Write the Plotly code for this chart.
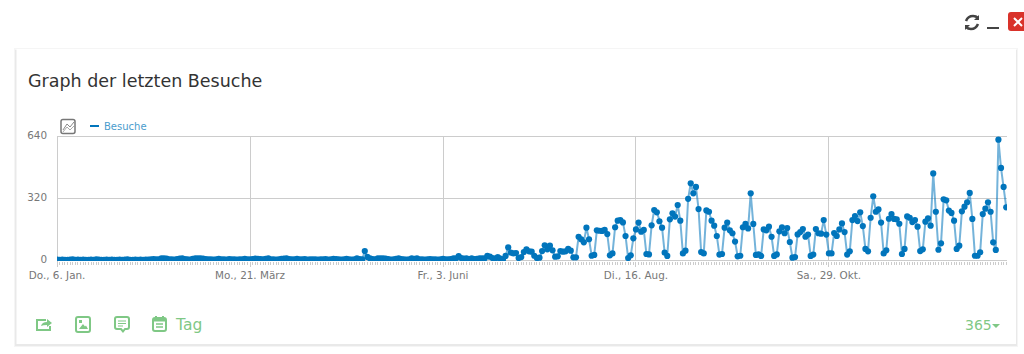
import pandas as pd
import plotly.graph_objects as go

START_DATE = "2022-01-06"
SERIES_NAME = "Besuche"
TITLE = "Graph der letzten Besuche"

visits_early = [
    2,1,2,1,1,2,3,1,2,1, 2,1,1,2,1,3,2,1,1,2, 1,2,1,1,2,1,2,3,1,1, 2,1,2,1,2,2,3,5,4,3,
    8,9,7,4,3,2,5,7,8,5, 3,2,6,8,9,8,7,5,3,4, 2,3,6,4,3,2,5,3,4,2, 3,4,6,4,3,5,7,6,5,4,
    6,8,4,3,2,4,6,7,8,5, 3,4,6,4,3,5,2,3,4,3, 2,3,4,5,2,3,6,5,3,2, 4,6,3,2,4,8,5,3,46,
    16,8,5,4,8,9,8,7,5,2, 3,6,9,5,3,2,4,8,6,9, 4,3,2,3,5,4,3,2,3,6, 4,3,5,8,9,20,10,7,9,5,8,5,6,
]
visits_mid = [
    9,9,9,21,17,10,7,15,7,3, 21,65,38,34,36,10,15,41,55,45, 43,22,10,12,46,76,55,74,50,17,
    19,46,43,45,57,48,14,14,120,107, 91,167,107,22,26,153,151,150,155,134,
    24,34,169,203,206,194,124,10,24,112, 158,193,146,155,31,29,179,258,246,200,
    167,38,21,210,241,224,284,203,34,48, 316,396,344,377,263,41,34,256,249,203,
    177,124,28,31,167,193,153,138,95,19, 22,169,186,163,
]
visits_late = [
    344,186,26,29,21,158,153,172,120,21, 29,148,169,138,165,93,12,15,132,144,160,
    120,131,21,28,160,138,136,206,131,34, 34,139,124,158,189,144,28,45,206,227,
    201,246,175,57,45,218,329,249,261,193, 34,50,213,237,212,210,187,31,57,225,
    218,196,206,172,46,55,198,215,177,447, 249,53,86,313,308,255,243,203,57,74,
    251,275,298,346,212,22,22,40,237,265, 298,249,91,52,621,475,377,272,
]
visits = visits_early + visits_mid + visits_late
dates = pd.date_range(START_DATE, periods=len(visits), freq="D")

x_tick_dates = ["2022-01-06", "2022-03-21", "2022-06-03", "2022-08-16", "2022-10-29"]
x_tick_labels = ["Do., 6. Jan.", "Mo., 21. März", "Fr., 3. Juni", "Di., 16. Aug.", "Sa., 29. Okt."]
y_ticks = [0, 320, 640]

W, H = 1024, 354
FONT = "DejaVu Sans"
BLUE = "#0175bc"
GREEN = "#7fc885"


def px(x):
    return x / W


def py(y):
    return 1 - y / H


def path(*items):
    out = []
    for it in items:
        if isinstance(it, str):
            out.append(it)
        else:
            out.append(f"{px(it[0]):.5f},{py(it[1]):.5f}")
    return " ".join(out)


def rect(x0, y0, x1, y1, fill=None, line=None, lw=1, **kw):
    return dict(type="rect", xref="paper", yref="paper", x0=px(x0), x1=px(x1), y0=py(y1), y1=py(y0),
                fillcolor=fill or "rgba(0,0,0,0)", line=dict(color=line or "rgba(0,0,0,0)", width=lw if line else 0), layer="below", **kw)


def pth(d, line=None, lw=1.5, fill=None, layer="above"):
    return dict(type="path", xref="paper", yref="paper", path=d,
                fillcolor=fill or "rgba(0,0,0,0)", line=dict(color=line or "rgba(0,0,0,0)", width=lw if line else 0), layer=layer)


def rrect(x0, y0, x1, y1, r):
    return path("M", (x0 + r, y0), "L", (x1 - r, y0), "Q", (x1, y0), (x1, y0 + r), "L", (x1, y1 - r), "Q", (x1, y1), (x1 - r, y1),
                "L", (x0 + r, y1), "Q", (x0, y1), (x0, y1 - r), "L", (x0, y0 + r), "Q", (x0, y0), (x0 + r, y0), "Z")


shapes = [
    rect(14, 48, 1018, 347, fill="#f5f5f5"),
    rect(15, 50, 1017, 346, fill="#e9e9e9"),
    rect(16.5, 49, 1016, 344, fill="#ffffff"),
    # plot frame lines plotly leaves out at the range ends
    rect(57, 136, 1007, 137, fill="#cccccc"),
    rect(57, 136, 58, 265, fill="#cccccc"),
]

# window buttons
shapes += [
    pth(path("M", (966, 21), "Q", (968, 16), (973, 16), "Q", (976, 16), (978, 18)), line="#444", lw=2.5),
    pth(path("M", (979, 15), "L", (979, 20), "L", (974, 20), "Z"), fill="#444"),
    pth(path("M", (978, 24), "Q", (976, 29), (971, 29), "Q", (968, 29), (966, 27)), line="#444", lw=2.5),
    pth(path("M", (965, 30), "L", (965, 25), "L", (970, 25), "Z"), fill="#444"),
    rect(987, 27, 999, 29, fill="#444"),
    pth(rrect(1008, 12, 1030, 31, 3), fill="#d9322a"),
    pth(path("M", (1014, 18), "L", (1022, 26), "M", (1022, 18), "L", (1014, 26)), line="#ffffff", lw=2),
]

# chart-type icon and legend key
shapes += [
    pth(rrect(61, 119.5, 75, 133.5, 2), line="#777", lw=1.5),
    pth(path("M", (63, 130), "L", (67, 124), "L", (70, 127), "L", (74, 122)), line="#888", lw=1),
    pth(path("M", (63, 132), "L", (67, 127), "L", (70, 130), "L", (74, 126)), line="#aaa", lw=1),
    rect(90, 125, 99, 127, fill=BLUE),
]

# footer icons
shapes += [
    pth(path("M", (46, 320), "L", (37, 320), "L", (37, 330), "L", (50, 330), "L", (50, 326)), line=GREEN, lw=2),
    pth(path("M", (41, 326), "Q", (42, 322), (47, 322), "L", (47, 319), "L", (52, 323), "L", (47, 327), "L", (47, 325), "Q", (43, 325), (41, 326), "Z"), fill=GREEN),
    pth(rrect(76, 317, 90, 332, 2), line=GREEN, lw=2),
    pth(path("M", (79, 329), "L", (83, 324), "L", (85, 326.5), "L", (86, 325.5), "L", (88, 329), "Z"), fill=GREEN),
    pth(path("M", (79, 320), "L", (82, 320), "L", (82, 323), "L", (79, 323), "Z"), fill=GREEN),
    pth(path("M", (117, 317), "L", (127, 317), "Q", (129, 317), (129, 319), "L", (129, 327), "Q", (129, 329), (127, 329),
             "L", (125, 329), "L", (123, 331.5), "L", (121, 329), "L", (117, 329), "Q", (115, 329), (115, 327), "L", (115, 319), "Q", (115, 317), (117, 317), "Z"), line=GREEN, lw=2),
    pth(path("M", (118, 321), "L", (126, 321), "M", (118, 323.5), "L", (126, 323.5), "M", (118, 326), "L", (123, 326)), line=GREEN, lw=1),
    pth(rrect(153, 318, 166, 331, 2), line=GREEN, lw=2),
    pth(path("M", (153, 318), "L", (166, 318), "L", (166, 321.5), "L", (153, 321.5), "Z"), fill=GREEN),
    pth(path("M", (156, 316), "L", (156, 319), "M", (163, 316), "L", (163, 319)), line=GREEN, lw=2),
    pth(path("M", (156, 324), "L", (163, 324), "M", (156, 327), "L", (163, 327)), line=GREEN, lw=1.5),
    pth(path("M", (992, 324), "L", (1000, 324), "L", (996, 328), "Z"), fill=GREEN),
]

annotations = [
    dict(text=TITLE, x=px(28), y=py(81), xanchor="left", yanchor="middle", font=dict(size=17.5, color="#333333", family=FONT)),
    dict(text=SERIES_NAME, x=px(103.5), y=py(126.5), xanchor="left", yanchor="middle", font=dict(size=10, color="#4a9ccd", family=FONT)),
    dict(text="Tag", x=px(174.5), y=py(325), xanchor="left", yanchor="middle", font=dict(size=15.5, color=GREEN, family=FONT)),
    dict(text="365", x=px(992), y=py(325), xanchor="right", yanchor="middle", font=dict(size=14, color=GREEN, family=FONT)),
]
for a in annotations:
    a.update(xref="paper", yref="paper", showarrow=False, borderpad=0, borderwidth=0)

fig = go.Figure(
    go.Scatter(
        x=dates, y=visits, name=SERIES_NAME, mode="lines+markers",
        line=dict(color="rgba(1,117,188,0.55)", width=2),
        marker=dict(color=BLUE, size=6.2),
        cliponaxis=True,
    )
)
fig.update_layout(
    width=W, height=H,
    margin=dict(l=0, r=0, t=0, b=0, pad=0, autoexpand=False),
    paper_bgcolor="#ffffff", plot_bgcolor="rgba(0,0,0,0)",
    showlegend=False,
    shapes=shapes, annotations=annotations,
    font=dict(family=FONT, size=10.4, color="#777777"),
    xaxis=dict(
        automargin=False,
        domain=[px(57.1), px(1007.1)],
        range=["2022-01-06 00:00", "2023-01-05 08:00"],
        tickmode="array", tickvals=x_tick_dates, ticktext=x_tick_labels,
        ticks="outside", ticklen=5, tickcolor="#cccccc", tickwidth=1,
        showgrid=True, gridcolor="#cccccc", gridwidth=1,
        showline=False, zeroline=False,
        minor=dict(ticks="outside", ticklen=3, tickcolor="#cccccc", tickwidth=1, dtick=86400000, tick0=START_DATE, showgrid=False),
        tickfont=dict(size=10.4, color="#777777", family=FONT),
    ),
    yaxis=dict(
        automargin=False,
        domain=[py(261), py(136)],
        range=[-5.16, 640],
        tickmode="array", tickvals=y_ticks, ticktext=[str(v) for v in y_ticks],
        ticks="", showgrid=True, gridcolor="#cccccc", gridwidth=1,
        showline=False, zeroline=False, ticklabelstandoff=9, ticklabelshift=-1,
        tickfont=dict(size=10.4, color="#777777", family=FONT),
    ),
)
fig.write_html("out.html", config=dict(displayModeBar=False), post_script="document.body.style.margin='0';")
